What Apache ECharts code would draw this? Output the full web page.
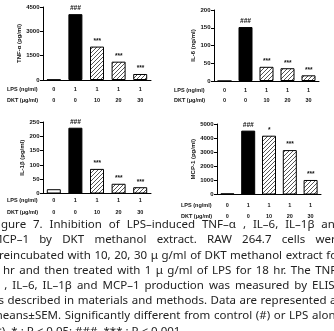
<!DOCTYPE html>
<html>
<head>
<meta charset="utf-8">
<script src="https://cdn.jsdelivr.net/npm/echarts@6/dist/echarts.min.js"></script>
<style>
    html, body { margin: 0; padding: 0; background: #fff; }
    #main { width: 334px; height: 331px; }
</style>
</head>
<body>
<div id="main"></div>
<script>
    // treatment rows under each chart
    var lpsDose = ['0', '1', '1', '1', '1'];
    var dktDose = ['0', '0', '10', '20', '30'];

    var tnfValues = [20, 4060, 2060, 1130, 370];
    var il6Values = [0, 152, 40, 36, 16];
    var il1bValues = [15, 230, 86, 34, 22];
    var mcp1Values = [80, 4530, 4170, 3150, 1030];

    // significance marks above the bars
    var tnfMarks = ['', '###', '***', '***', '***'];
    var il6Marks = ['', '###', '***', '***', '***'];
    var il1bMarks = ['', '###', '***', '***', '***'];
    var mcp1Marks = ['', '###', '*', '***', '***'];

    // y axis ranges: [max, interval]
    var tnfAxis = [4500, 1500];
    var il6Axis = [200, 50];
    var il1bAxis = [250, 50];
    var mcp1Axis = [5000, 1000];

    var rowNames = ['LPS (ng/ml)', 'DKT (\u03bcg/ml)'];

    var captionLines = [
        'Figure 7. Inhibition of LPS\u2013induced TNF\u2013\u03b1 , IL\u20136, IL\u20131\u03b2  and',
        'MCP\u20131 by DKT methanol extract. RAW 264.7 cells were',
        'preincubated with 10, 20, 30 \u03bc g/ml of DKT methanol extract for',
        '1 hr and then treated with 1 \u03bc g/ml of LPS for 18 hr. The TNF\u2013',
        '\u03b1 , IL\u20136, IL\u20131\u03b2  and MCP\u20131 production was measured by ELISA',
        'as described in materials and methods. Data are represented as',
        'means\u00b1SEM. Significantly different from control (#) or LPS alone',
        '(*). * : P < 0.05; ###, *** : P < 0.001'
    ];

    function hatch() {
        var c = document.createElement('canvas');
        c.width = 4; c.height = 4;
        var g = c.getContext('2d');
        g.fillStyle = '#fff';
        g.fillRect(0, 0, 4, 4);
        g.strokeStyle = '#555';
        g.lineWidth = 1;
        g.beginPath();
        g.moveTo(0, 4); g.lineTo(4, 0);
        g.moveTo(-1, 1); g.lineTo(1, -1);
        g.moveTo(3, 5); g.lineTo(5, 3);
        g.stroke();
        return c;
    }
    var hatchFill = { image: hatch(), repeat: 'repeat' };

    // layout of the four panels
    var panels = [
        { left: 43, top: 7, width: 108, height: 73, name: 'TNF-\u03b1 (pg/ml)', gap: 15, axis: tnfAxis, values: tnfValues, marks: tnfMarks, lh: 11, margin: 3.5, rowX: 7 },
        { left: 214, top: 10, width: 105, height: 71, name: 'IL-6 (ng/ml)', gap: 12, axis: il6Axis, values: il6Values, marks: il6Marks, lh: 10, margin: 4, rowX: 174 },
        { left: 43, top: 122, width: 108, height: 71.5, name: 'IL-1\u03b2 (pg/ml)', gap: 14, axis: il1bAxis, values: il1bValues, marks: il1bMarks, lh: 12, margin: 1, rowX: 7 },
        { left: 217, top: 124, width: 104, height: 70.5, name: 'MCP-1 (pg/ml)', gap: 15, axis: mcp1Axis, values: mcp1Values, marks: mcp1Marks, lh: 11, margin: 5, rowX: 181 }
    ];

    var fills = ['#fff', '#000', hatchFill, hatchFill, hatchFill];
    var smallFont = { fontFamily: 'Liberation Sans', fontSize: 5.5, fontWeight: 'bold', color: '#111' };

    var grid = [], xAxis = [], yAxis = [], series = [], graphic = [];

    panels.forEach(function (p, i) {
        grid.push({ left: p.left, top: p.top, width: p.width, height: p.height });
        xAxis.push({
            type: 'category', gridIndex: i, data: lpsDose,
            axisLine: { lineStyle: { color: '#000', width: 1 } },
            axisTick: { alignWithLabel: true, length: 2, lineStyle: { color: '#000' } },
            axisLabel: Object.assign({
                margin: p.margin, lineHeight: p.lh,
                formatter: function (v, idx) { return lpsDose[idx] + '\n' + dktDose[idx]; }
            }, smallFont)
        });
        yAxis.push({
            type: 'value', gridIndex: i, min: 0, max: p.axis[0], interval: p.axis[1],
            splitLine: { show: false },
            axisLine: { show: true, lineStyle: { color: '#000', width: 1 } },
            axisTick: { show: true, length: 3, lineStyle: { color: '#000' } },
            axisLabel: Object.assign({ margin: 3.5, fontSize: 6, formatter: function (v) { return String(v); } },
                { fontFamily: 'Liberation Sans', fontWeight: 'bold', color: '#111' }),
            name: p.name, nameLocation: 'middle', nameGap: p.gap,
            nameTextStyle: { fontFamily: 'Liberation Sans', fontSize: 6, fontWeight: 'bold', color: '#111' }
        });
        series.push({
            type: 'bar', xAxisIndex: i, yAxisIndex: i, barWidth: 14,
            data: p.values.map(function (v, k) {
                return { value: v, itemStyle: { color: fills[k], borderColor: '#000', borderWidth: 1 } };
            }),
            label: {
                show: true, position: 'top', distance: 2,
                fontFamily: 'Liberation Sans', fontSize: 6.5, fontWeight: 'bold', fontStyle: 'italic', color: '#111',
                formatter: function (d) { return p.marks[d.dataIndex]; }
            }
        });
        var row1 = p.top + p.height + p.margin + p.lh / 2;
        rowNames.forEach(function (t, r) {
            graphic.push({
                type: 'text', left: p.rowX, top: row1 + r * p.lh - 3,
                style: { text: t, font: 'bold 5.5px "Liberation Sans"', fill: '#111' }
            });
        });
    });

    // caption, justified like the printed page
    var capFont = '11.5px "Noto Sans"';
    var meas = document.createElement('canvas').getContext('2d');
    meas.font = capFont;
    var capLeft = -8, capRight = 342, capTop = 225, capStep = 15.2;
    captionLines.forEach(function (line, li) {
        var words = line.split(/ +/);
        var widths = words.map(function (w) { return meas.measureText(w).width; });
        var total = widths.reduce(function (a, b) { return a + b; }, 0);
        var last = li === captionLines.length - 1;
        var gapW = last ? meas.measureText(' ').width : (capRight - capLeft - total) / (words.length - 1);
        var x = capLeft;
        var y = capTop + li * capStep;
        words.forEach(function (w, k) {
            graphic.push({
                type: 'text', x: x, y: y,
                style: { text: w, font: capFont, fill: '#222', textVerticalAlign: 'middle' }
            });
            x += widths[k] + gapW;
        });
    });

    var charts = echarts.init(document.getElementById('main'));
    charts.setOption({
        animation: false,
        backgroundColor: '#fff',
        grid: grid,
        xAxis: xAxis,
        yAxis: yAxis,
        series: series,
        graphic: graphic
    });
</script>
</body>
</html>
